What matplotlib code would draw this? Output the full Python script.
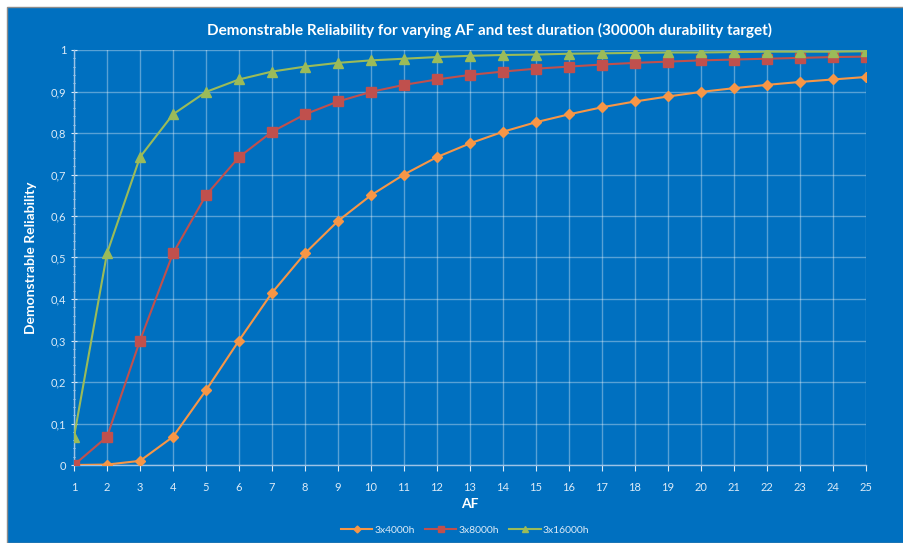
import numpy as np
import matplotlib.pyplot as plt
from matplotlib.patches import Rectangle
from matplotlib.ticker import FuncFormatter, MultipleLocator

plt.rcParams['font.family'] = ['Lato', 'DejaVu Sans']

#%% Datos
af = list(range(1, 26))
r_4000 = [0.0, 0.001, 0.01, 0.068, 0.18, 0.30, 0.415, 0.51, 0.588, 0.65,
          0.70, 0.742, 0.775, 0.803, 0.826, 0.845, 0.862, 0.876, 0.888, 0.899,
          0.908, 0.916, 0.923, 0.929, 0.935]
r_8000 = [0.0, 0.068, 0.30, 0.51, 0.65, 0.742, 0.803, 0.845, 0.876, 0.899,
          0.916, 0.929, 0.94, 0.948, 0.955, 0.96, 0.965, 0.969, 0.972, 0.975,
          0.977, 0.979, 0.981, 0.983, 0.984]
r_16000 = [0.068, 0.51, 0.742, 0.845, 0.899, 0.929, 0.948, 0.96, 0.969, 0.975,
           0.979, 0.983, 0.986, 0.988, 0.989, 0.991, 0.992, 0.993, 0.994, 0.994,
           0.995, 0.996, 0.996, 0.996, 0.997]
labels = ['3x4000h', '3x8000h', '3x16000h']

azul = '#0070C0'
claro = '#DDEBF7'

fig = plt.figure(figsize=(9.04, 5.43), dpi=100, facecolor='white')
fig.patches.append(Rectangle((7/904, 0), 1, 1 - 7/543, transform=fig.transFigure,
                             facecolor=azul, edgecolor='#8C8C8C', linewidth=1,
                             zorder=-10))

ax = fig.add_axes([74/904, 1 - 465/543, (866-74)/904, (465-50)/543])
ax.set_facecolor(azul)

ax.plot(af, r_4000, color='#F79646', lw=1.5, marker='D', ms=5, label=labels[0], zorder=3)
ax.plot(af, r_8000, color='#C0504D', lw=1.5, marker='s', ms=7, label=labels[1], zorder=3)
ax.plot(af, r_16000, color='#9BBB59', lw=1.5, marker='^', ms=7, label=labels[2], zorder=3)

ax.set_xlim(1, 25)
ax.set_ylim(0, 1)
ax.set_xticks(af)
ax.yaxis.set_major_locator(MultipleLocator(0.1))
ax.yaxis.set_minor_locator(MultipleLocator(0.02))
ax.yaxis.set_major_formatter(FuncFormatter(lambda v, p: ('%g' % round(v, 1)).replace('.', ',')))

ax.grid(True, which='major', color='white', alpha=0.35, lw=1)
for s in ax.spines.values():
    s.set_color('#9DC3E6')
    s.set_linewidth(1)
ax.spines['top'].set_visible(False)
ax.spines['right'].set_visible(False)
ax.tick_params(axis='both', which='major', colors=claro, labelsize=8, length=4)
ax.tick_params(axis='y', which='minor', colors=claro, length=2)
ax.tick_params(axis='y', which='both', direction='inout')
ax.tick_params(axis='x', pad=8)

ax.set_xlabel('AF', color='white', fontsize=10, fontweight='bold', labelpad=4)
ax.set_ylabel('Demonstrable Reliability', color='white', fontsize=10, fontweight='bold', labelpad=10)
fig.text(490/904, 1 - 30/543, 'Demonstrable Reliability for varying AF and test duration (30000h durability target)',
         color='white', fontsize=11, fontweight='bold', ha='center', va='center')

leg = ax.legend(loc='center', bbox_to_anchor=(465/904, 1 - 530/543), bbox_transform=fig.transFigure,
                ncol=3, frameon=False, fontsize=7.5, handlelength=3, columnspacing=1.0,
                handletextpad=0.2, markerscale=0.7)
for t in leg.get_texts():
    t.set_color(claro)

plt.savefig('out.png', dpi=100, facecolor='white')
